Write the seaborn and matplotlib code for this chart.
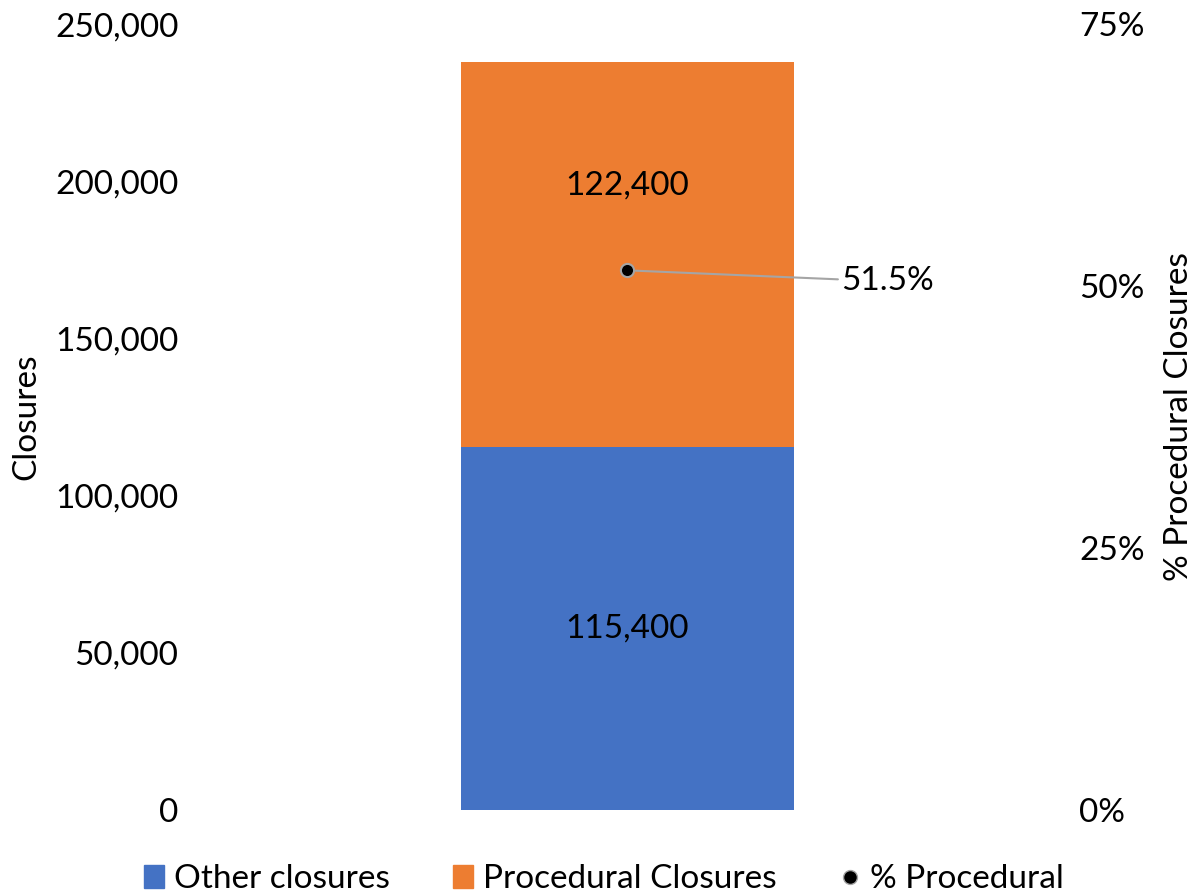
import numpy as np
import pandas as pd
import matplotlib
matplotlib.use("Agg")
import matplotlib.pyplot as plt
import matplotlib.patches as mpatches
from matplotlib.lines import Line2D
from matplotlib.ticker import FuncFormatter
import seaborn as sns

# data
categories = ["All closures"]
other_closures = [115400]
procedural_closures = [122400]
pct_procedural = [51.5]

blue = "#4472C4"
orange = "#ED7D31"
FS = 24

sns.set_style("white")
plt.rcParams["font.family"] = ["Lato", "DejaVu Sans"]
plt.rcParams["text.color"] = "black"
plt.rcParams["axes.labelcolor"] = "black"
plt.rcParams["ytick.color"] = "black"

df = pd.DataFrame({
    "cat": categories,
    "other": other_closures,
    "proc": procedural_closures,
    "pct": pct_procedural,
})

fig = plt.figure(figsize=(11.96, 8.93), dpi=100)
ax = fig.add_axes([0.163, 0.093, 0.723, 0.880])

# stacked bar
sns.barplot(data=df, x="cat", y="other", color=blue, width=0.385,
            saturation=1, linewidth=0, ax=ax)
sns.barplot(data=df, x="cat", y="proc", color=orange, width=0.385,
            saturation=1, linewidth=0, bottom=df["other"], ax=ax)

ax.set_xlim(-0.5, 0.5)
ax.set_ylim(0, 250000)
ax.set_yticks(np.arange(0, 250001, 50000))
ax.yaxis.set_major_formatter(FuncFormatter(lambda v, p: f"{int(v):,}"))
ax.tick_params(axis="y", labelsize=FS, length=0, pad=12)
ax.set_xticks([])
ax.set_xlabel("")
ax.set_ylabel("Closures", fontsize=FS, labelpad=10)
for s in ax.spines.values():
    s.set_visible(False)

# segment labels
for i, (o, p) in enumerate(zip(df["other"], df["proc"])):
    ax.text(i, o / 2, f"{o:,}", ha="center", va="center", fontsize=FS)
    ax.text(i, o + p * 0.68, f"{p:,}", ha="center", va="center", fontsize=FS)

# percent on secondary axis
ax2 = ax.twinx()
ax2.set_ylim(0, 75)
ax2.set_yticks([0, 25, 50, 75])
ax2.yaxis.set_major_formatter(FuncFormatter(lambda v, p: f"{int(v)}%"))
ax2.tick_params(axis="y", labelsize=FS, length=0, pad=14)
ax2.set_ylabel("% Procedural Closures", fontsize=FS, labelpad=14)
for s in ax2.spines.values():
    s.set_visible(False)

sns.scatterplot(data=df, x="cat", y="pct", color="black", edgecolor="#A5A5A5",
                linewidth=1.5, s=90, ax=ax2, zorder=5, legend=False)
ax2.set_xlim(-0.5, 0.5)
ax2.set_xlabel("")
ax2.set_xticks([])

for i, v in enumerate(df["pct"]):
    ax2.annotate(f"{v}%", xy=(i, v), xytext=(154, -8), textcoords="offset points",
                 ha="left", va="center", fontsize=FS,
                 arrowprops=dict(arrowstyle="-", color="#A5A5A5", lw=1.5,
                                 shrinkA=0, shrinkB=6))

handles = [
    mpatches.Patch(color=blue, label="Other closures"),
    mpatches.Patch(color=orange, label="Procedural Closures"),
    Line2D([0], [0], marker="o", color="none", markerfacecolor="black",
           markeredgecolor="#A5A5A5", markersize=10, label="% Procedural"),
]
fig.legend(handles=handles, loc="lower center", bbox_to_anchor=(0.505, -0.035),
           ncol=3, frameon=False, fontsize=FS, handlelength=0.6,
           handleheight=0.7, handletextpad=0.3, columnspacing=1.9)

fig.savefig("out.png", dpi=100)
